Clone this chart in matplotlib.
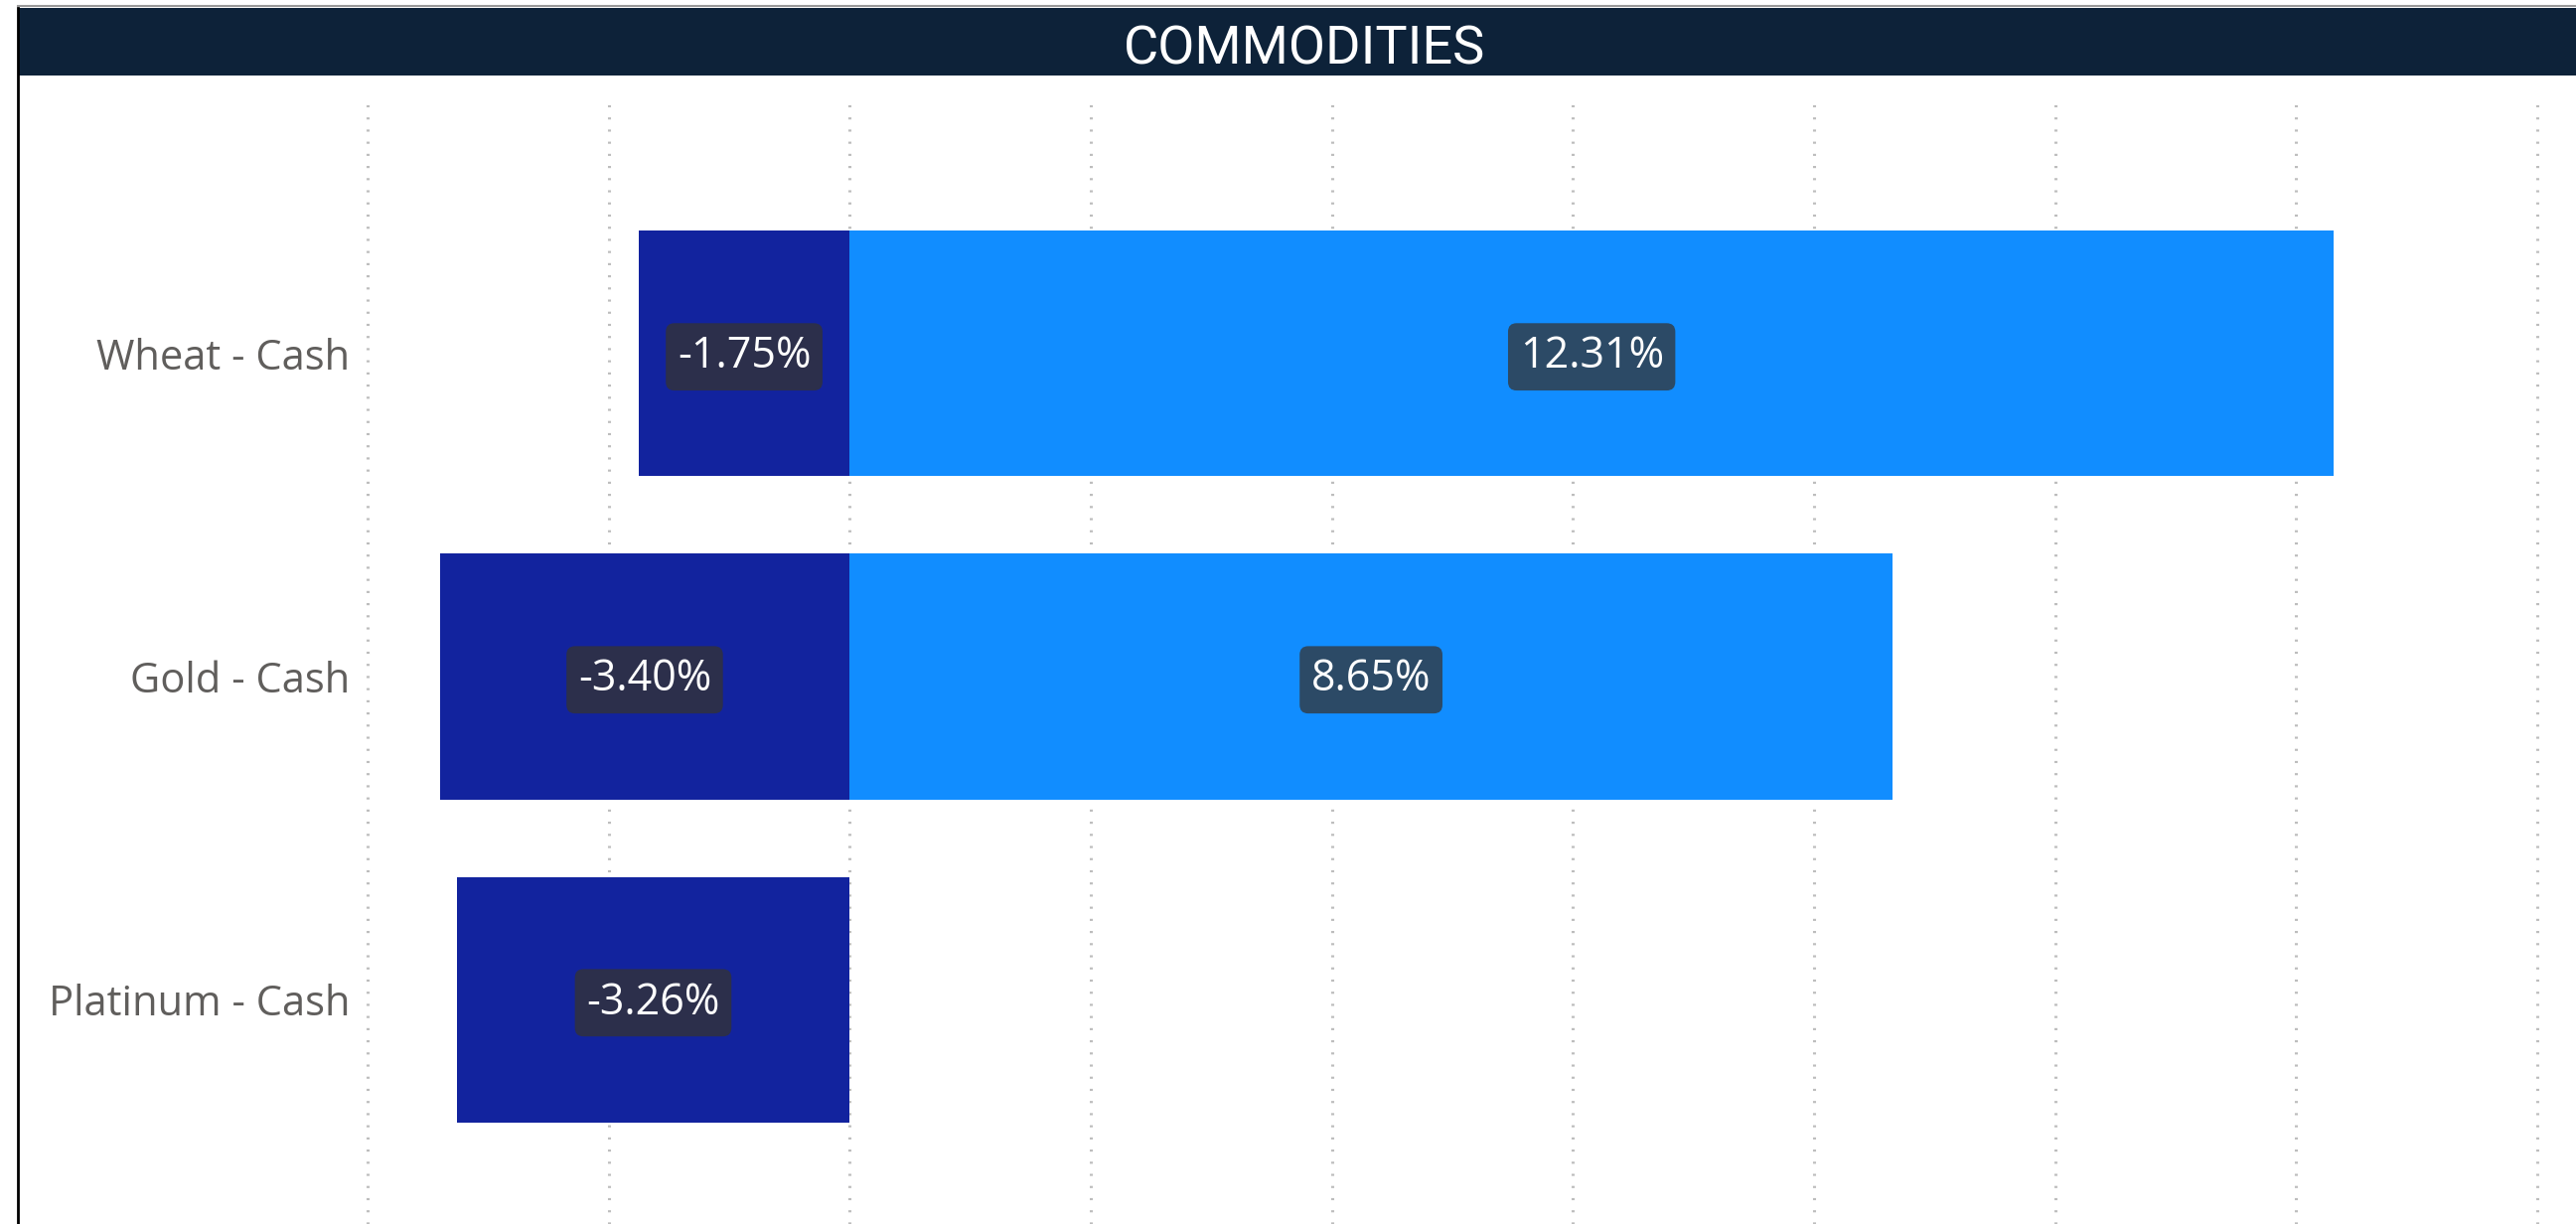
"""
Commodities range chart: worst (negative) and best (positive) result per pair,
drawn as a Power BI style diverging bar chart.
"""

import matplotlib
matplotlib.use("Agg")
import matplotlib.pyplot as plt
from matplotlib.patches import Rectangle
from matplotlib.lines import Line2D

# data
categories = ["Wheat - Cash", "Gold - Cash", "Platinum - Cash"]
neg_values = [-1.75, -3.40, -3.26]
pos_values = [12.31, 8.65, None]
grid_ticks = [-4, -2, 0, 2, 4, 6, 8, 10, 12, 14]

W, H = 2593, 1232
DPI = 100

NAVY = "#0D2239"
DARK_BLUE = "#12239E"
LIGHT_BLUE = "#118DFF"
NEG_BOX = "#2C2F4B"
POS_BOX = "#2C4A66"
TICK_GRAY = "#605E5C"

fig = plt.figure(figsize=(W / DPI, H / DPI), dpi=DPI)
fig.patch.set_facecolor("white")

# title band + frame
band_top, band_bot = 8, 76
frame_x = 18
fig.patches.append(Rectangle((frame_x / W, 1 - band_bot / H), 1 - frame_x / W,
                             (band_bot - band_top) / H, transform=fig.transFigure,
                             facecolor=NAVY, edgecolor="none", zorder=0))
fig.lines.append(Line2D([frame_x / W, 1], [1 - 6 / H, 1 - 6 / H], transform=fig.transFigure,
                        color="#9a9a9a", lw=1.5))
fig.lines.append(Line2D([frame_x / W, frame_x / W], [0, 1 - band_top / H], transform=fig.transFigure,
                        color="black", lw=2))
fig.text(1313 / W, 1 - 50 / H, "COMMODITIES", color="white", fontsize=39,
         family=["Roboto", "DejaVu Sans"], ha="center", va="center")

# plot area
ax_left, ax_top = 365, 103
ax = fig.add_axes([ax_left / W, 0, 1 - ax_left / W, 1 - ax_top / H])
ax.set_xlim(-4.04, 14.32)
ax.set_ylim(2.695, -0.778)

y = list(range(len(categories)))
bar_h = 0.76

ax.barh(y, neg_values, height=bar_h, color=DARK_BLUE, zorder=2)
pos_clean = [v if v is not None else 0 for v in pos_values]
ax.barh(y, pos_clean, height=bar_h, color=LIGHT_BLUE, zorder=2)

label_font = dict(fontsize=31, color="white", family=["Open Sans", "DejaVu Sans"],
                  ha="center", va="center", zorder=4)
box = "round,pad=0.27,rounding_size=0.2"
for yi, v in zip(y, neg_values):
    ax.text(v / 2, yi + 0.01, f"{v:.2f}%", **label_font,
            bbox=dict(boxstyle=box, fc=NEG_BOX, ec="none"))
for yi, v in zip(y, pos_values):
    if v is None:
        continue
    ax.text(v / 2, yi + 0.01, f"{v:.2f}%", **label_font,
            bbox=dict(boxstyle=box, fc=POS_BOX, ec="none"))

# dotted vertical gridlines
for gx in grid_ticks:
    ax.axvline(gx, color="#bdbdbd", lw=2.2, linestyle=(0, (0.7, 3.3)), zorder=1)

ax.set_yticks(y)
ax.set_yticklabels(categories, fontsize=30, color=TICK_GRAY, family=["Open Sans", "DejaVu Sans"])
ax.tick_params(axis="y", length=0, pad=9)
ax.set_xticks([])
for s in ax.spines.values():
    s.set_visible(False)

fig.savefig("out.png", dpi=DPI)
